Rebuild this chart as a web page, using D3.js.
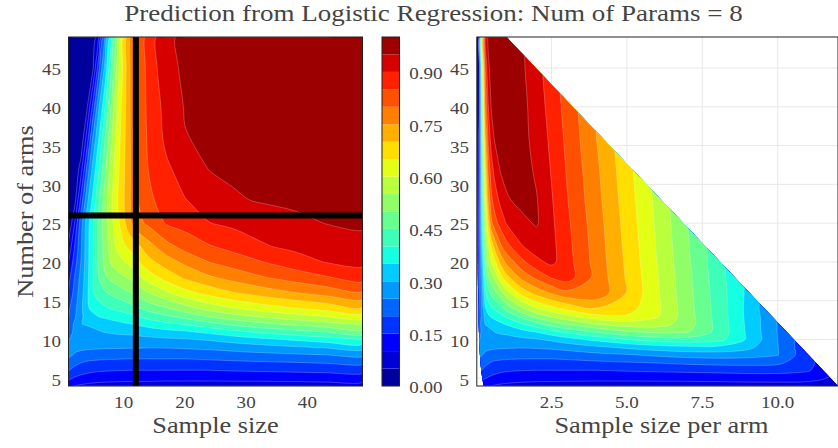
<!DOCTYPE html>
<html><head><meta charset="utf-8">
<script src="https://cdn.jsdelivr.net/npm/d3@7"></script>
<style>html,body{margin:0;padding:0;background:#fff;}svg{display:block;}</style>
</head><body>
<svg id="chart" width="838" height="448"></svg>
<script>
// ---------------- data ----------------
const titleText = "Prediction from Logistic Regression: Num of Params = 8";
// left panel grid: sample size (columns) x number of arms (rows)
const sampleSizes = [1,2,3,4,5,6,7,8,9,10,11,12,14,17,20,24,28,33,38,43,49];
const arms = [4,5,6,7,8,9,10,11,12,13,14,16,18,20,22,25,28,32,36,40,45,49];
const probBySampleSize = [
 [0.108,0.098,0.092,0.088,0.085,0.083,0.082,0.081,0.08,0.08,0.08,0.08,0.08,0.08,0.08,0.08,0.08,0.08,0.08,0.08,0.08],
 [0.16,0.145,0.135,0.128,0.123,0.12,0.118,0.117,0.116,0.115,0.114,0.114,0.114,0.111,0.111,0.111,0.112,0.113,0.115,0.119,0.12],
 [0.2,0.18,0.17,0.163,0.158,0.155,0.153,0.152,0.151,0.1505,0.149,0.149,0.149,0.149,0.149,0.149,0.153,0.156,0.16,0.163,0.167],
 [0.23,0.215,0.201,0.193,0.19,0.188,0.187,0.186,0.185,0.184,0.183,0.183,0.183,0.183,0.183,0.186,0.19,0.194,0.198,0.203,0.21],
 [0.26,0.245,0.235,0.228,0.224,0.221,0.22,0.219,0.218,0.217,0.217,0.217,0.218,0.218,0.218,0.223,0.23,0.237,0.243,0.249,0.261],
 [0.265,0.264,0.262,0.26,0.259,0.258,0.257,0.257,0.256,0.256,0.255,0.255,0.253,0.254,0.258,0.263,0.272,0.283,0.295,0.306,0.321],
 [0.249,0.258,0.266,0.271,0.274,0.277,0.278,0.279,0.28,0.28,0.281,0.283,0.287,0.292,0.296,0.306,0.322,0.341,0.358,0.377,0.401],
 [0.235,0.257,0.268,0.279,0.289,0.297,0.303,0.306,0.31,0.313,0.314,0.318,0.325,0.336,0.345,0.364,0.388,0.414,0.435,0.453,0.48],
 [0.22,0.258,0.298,0.306,0.312,0.318,0.325,0.331,0.337,0.344,0.349,0.355,0.37,0.389,0.406,0.436,0.464,0.491,0.513,0.534,0.557],
 [0.199,0.242,0.29,0.317,0.339,0.354,0.361,0.369,0.376,0.384,0.388,0.397,0.42,0.444,0.469,0.506,0.534,0.562,0.583,0.604,0.625],
 [0.19,0.235,0.286,0.342,0.363,0.378,0.393,0.403,0.41,0.417,0.427,0.439,0.467,0.495,0.528,0.569,0.598,0.624,0.646,0.666,0.693],
 [0.155,0.22,0.275,0.338,0.398,0.423,0.445,0.46,0.472,0.485,0.497,0.512,0.549,0.591,0.632,0.667,0.697,0.724,0.748,0.769,0.791],
 [0.13,0.203,0.264,0.333,0.398,0.454,0.492,0.513,0.529,0.545,0.556,0.58,0.623,0.67,0.708,0.743,0.769,0.798,0.822,0.845,0.873],
 [0.099,0.175,0.249,0.329,0.398,0.463,0.518,0.557,0.579,0.598,0.616,0.635,0.683,0.726,0.762,0.801,0.824,0.851,0.878,0.902,0.912],
 [0.06,0.151,0.24,0.327,0.397,0.463,0.525,0.574,0.612,0.641,0.661,0.683,0.729,0.783,0.818,0.846,0.867,0.896,0.912,0.922,0.931],
 [0,0.101,0.225,0.323,0.393,0.464,0.531,0.585,0.635,0.685,0.739,0.78,0.81,0.855,0.869,0.899,0.911,0.925,0.939,0.951,0.958],
 [0,0.03,0.16,0.283,0.365,0.445,0.526,0.594,0.647,0.694,0.746,0.792,0.839,0.872,0.898,0.921,0.945,0.955,0.96,0.963,0.966],
 [0,0,0.074,0.209,0.319,0.401,0.493,0.574,0.636,0.69,0.745,0.794,0.85,0.892,0.92,0.952,0.958,0.963,0.967,0.97,0.972],
 [0,0,0,0.121,0.257,0.355,0.45,0.546,0.623,0.684,0.746,0.795,0.857,0.911,0.948,0.958,0.964,0.969,0.972,0.975,0.977],
 [0,0,0,0.04,0.17,0.299,0.397,0.507,0.607,0.677,0.747,0.799,0.861,0.917,0.953,0.962,0.968,0.973,0.976,0.978,0.98],
 [0,0,0,0,0.045,0.194,0.324,0.446,0.571,0.665,0.748,0.802,0.864,0.937,0.957,0.964,0.97,0.975,0.978,0.98,0.982],
 [0,0,0,0,0,0.101,0.252,0.385,0.52,0.65,0.752,0.805,0.865,0.942,0.958,0.965,0.972,0.977,0.98,0.982,0.984]
];
// right panel grid: sample size per arm (columns) x number of arms (rows, same as arms)
const perArm = [0.02,0.1,0.2,0.3,0.4,0.5,0.6,0.8,1,1.5,2,2.5,3,4,5,6,7,8,9,10,11,12];
const probByPerArm = [
 [0.11,0.11,0.11,0.106,0.102,0.098,0.096,0.091,0.088,0.083,0.081,0.08,0.08,0.08,0.08,0.08,0.08,0.08,0.08,0.08,0.08,0.08],
 [0.17,0.17,0.16,0.153,0.145,0.14,0.135,0.128,0.123,0.118,0.115,0.114,0.113,0.111,0.111,0.112,0.113,0.115,0.119,0.12,0.115,0.09],
 [0.21,0.21,0.196,0.184,0.176,0.17,0.166,0.159,0.155,0.151,0.149,0.149,0.149,0.149,0.154,0.158,0.162,0.166,0.17,0.17,0.155,0.1],
 [0.23,0.23,0.224,0.214,0.204,0.197,0.192,0.189,0.187,0.184,0.183,0.183,0.184,0.19,0.196,0.202,0.21,0.215,0.215,0.21,0.165,0.1],
 [0.26,0.26,0.251,0.241,0.234,0.228,0.225,0.221,0.219,0.217,0.218,0.218,0.223,0.236,0.245,0.259,0.27,0.275,0.27,0.252,0.163,0.1],
 [0.265,0.265,0.264,0.263,0.261,0.26,0.259,0.257,0.256,0.254,0.256,0.261,0.27,0.29,0.311,0.33,0.34,0.34,0.315,0.252,0.16,0.1],
 [0.24,0.249,0.258,0.266,0.271,0.274,0.277,0.279,0.28,0.289,0.296,0.31,0.33,0.366,0.399,0.425,0.43,0.42,0.344,0.25,0.16,0.1],
 [0.22,0.237,0.259,0.271,0.283,0.293,0.301,0.309,0.314,0.334,0.355,0.385,0.414,0.457,0.495,0.512,0.505,0.437,0.342,0.248,0.165,0.11],
 [0.19,0.228,0.274,0.303,0.311,0.318,0.326,0.341,0.355,0.395,0.436,0.475,0.504,0.553,0.578,0.575,0.525,0.435,0.34,0.248,0.17,0.11],
 [0.17,0.212,0.271,0.314,0.342,0.358,0.367,0.386,0.409,0.465,0.52,0.559,0.587,0.637,0.645,0.606,0.523,0.433,0.338,0.248,0.17,0.11],
 [0.16,0.208,0.276,0.346,0.372,0.393,0.406,0.429,0.467,0.538,0.598,0.633,0.662,0.698,0.67,0.611,0.521,0.431,0.337,0.24,0.17,0.11],
 [0.13,0.194,0.288,0.386,0.432,0.46,0.48,0.527,0.577,0.667,0.719,0.756,0.787,0.787,0.697,0.607,0.517,0.428,0.34,0.248,0.17,0.11],
 [0.1,0.188,0.305,0.42,0.496,0.529,0.554,0.629,0.683,0.763,0.812,0.854,0.875,0.783,0.694,0.604,0.514,0.424,0.34,0.248,0.16,0.1],
 [0.07,0.175,0.329,0.463,0.557,0.598,0.635,0.712,0.762,0.835,0.888,0.912,0.871,0.779,0.69,0.599,0.51,0.42,0.33,0.24,0.148,0.1],
 [0.03,0.169,0.355,0.499,0.604,0.661,0.711,0.79,0.832,0.896,0.924,0.914,0.867,0.776,0.686,0.596,0.506,0.419,0.322,0.229,0.137,0.09],
 [0,0.163,0.393,0.558,0.685,0.788,0.825,0.869,0.902,0.938,0.955,0.909,0.861,0.771,0.681,0.591,0.501,0.413,0.317,0.223,0.131,0.085],
 [0,0.134,0.413,0.615,0.755,0.839,0.87,0.912,0.945,0.962,0.953,0.904,0.854,0.765,0.675,0.586,0.496,0.407,0.312,0.218,0.125,0.08],
 [0,0.101,0.437,0.668,0.816,0.878,0.913,0.954,0.962,0.972,0.942,0.896,0.847,0.758,0.668,0.579,0.488,0.399,0.304,0.211,0.118,0.07],
 [0,0.073,0.469,0.734,0.864,0.923,0.952,0.965,0.9705,0.965,0.935,0.888,0.84,0.749,0.661,0.571,0.481,0.391,0.297,0.204,0.109,0.06],
 [0,0.04,0.507,0.799,0.898,0.953,0.962,0.972,0.977,0.966,0.927,0.88,0.833,0.744,0.654,0.564,0.474,0.383,0.289,0.196,0.102,0.05],
 [0,0.022,0.571,0.848,0.944,0.961,0.969,0.977,0.981,0.96,0.918,0.871,0.824,0.735,0.645,0.555,0.465,0.373,0.279,0.187,0.095,0.05],
 [0,0,0.624,0.883,0.956,0.966,0.973,0.98,0.984,0.955,0.911,0.863,0.817,0.728,0.637,0.548,0.458,0.365,0.272,0.18,0.085,0.03]
];
const contourLevels = [0,0.05,0.1,0.15,0.2,0.25,0.3,0.35,0.4,0.45,0.5,0.55,0.6,0.65,0.7,0.75,0.8,0.85,0.9,0.95];
const colorbarTicks = [0,0.15,0.3,0.45,0.6,0.75,0.9];
const xTicksLeft = [10,20,30,40];
const yTicks = [5,10,15,20,25,30,35,40,45];
const xTicksRight = [2.5,5,7.5,10];
const markSampleSize = 12;   // vertical black line
const markArms = 26;         // horizontal black line
const hullTopPerArm = 1;     // per-arm value of the hull corner at the largest arm count
const hullMaxPerArm = 12;    // per-arm value of the hull corner at the smallest arm count

// ---------------- layout ----------------
const svg = d3.select('#chart');
const defs = svg.append('defs');
const L = {x0:68.5, x1:362.5, y0:37, y1:386};
const R = {x0:476.8, x1:838, y0:37, y1:386};
const CB = {x0:382, x1:399.5};
const FONT = '"Liberation Serif","Times New Roman",Times,serif';
const TXT = '#444';

const xL = d3.scaleLinear().domain(d3.extent(sampleSizes)).range([L.x0, L.x1]);
const yS = d3.scaleLinear().domain(d3.extent(arms)).range([L.y1, L.y0]);
const xR = d3.scaleLinear().domain(d3.extent(perArm)).range([R.x0, R.x1]);
const cbY = d3.scaleLinear().domain([0,1]).range([L.y1, L.y0]);

// matplotlib-style jet
const jetR = d3.scaleLinear().domain([0,0.35,0.66,0.89,1]).range([0,0,1,1,0.5]).clamp(true);
const jetG = d3.scaleLinear().domain([0,0.125,0.375,0.64,0.91,1]).range([0,0,1,1,0,0]).clamp(true);
const jetB = d3.scaleLinear().domain([0,0.11,0.34,0.65,1]).range([0.5,1,1,0,0]).clamp(true);
const jet = t => d3.rgb(255*jetR(t), 255*jetG(t), 255*jetB(t)).formatHex();
const step = contourLevels[1] - contourLevels[0];

const smoothLine = d3.line().curve(d3.curveCatmullRomClosed.alpha(0.5));

function drawContours(g, xs, ys, rows, xScale) {
  const n = xs.length, m = ys.length;
  const values = rows.flat();
  const ix = d3.scaleLinear().domain(d3.range(n)).range(xs).clamp(true);
  const iy = d3.scaleLinear().domain(d3.range(m)).range(ys).clamp(true);
  const toPx = ([x, y]) => [xScale(ix(x - 0.5)), yS(iy(y - 0.5))];
  const ringPath = ring => {
    const pts = [];
    ring.map(toPx).forEach(p => {
      const q = pts[pts.length - 1];
      if (!q || Math.hypot(p[0] - q[0], p[1] - q[1]) > 0.05) pts.push(p);
    });
    if (pts.length > 2 && Math.hypot(pts[0][0] - pts[pts.length-1][0], pts[0][1] - pts[pts.length-1][1]) < 0.05) pts.pop();
    return pts.length > 2 ? smoothLine(pts) : '';
  };
  const cs = d3.contours().size([n, m]).thresholds(contourLevels)(values);
  g.selectAll('path').data(cs).join('path')
    .attr('d', c => c.coordinates.map(poly => poly.map(ringPath).join('')).join(''))
    .attr('fill-rule', 'evenodd')
    .attr('fill', d => jet(d.value + step/2))
    .attr('stroke', 'rgba(255,255,255,0.4)')
    .attr('stroke-width', 0.6);
}

function label(x, y, str, o = {}) {
  const size = o.size || 17, stretch = o.stretch || 1.12, rot = o.rotate || 0;
  svg.append('g').attr('transform', `translate(${x},${y}) rotate(${rot}) scale(${stretch},1)`)
    .append('text').attr('text-anchor', o.anchor || 'middle')
    .attr('font-family', FONT).attr('font-size', size).attr('fill', TXT).text(str);
}

// ---------------- left panel ----------------
defs.append('clipPath').attr('id', 'leftClip').append('rect')
  .attr('x', L.x0).attr('y', L.y0).attr('width', L.x1 - L.x0).attr('height', L.y1 - L.y0);
const gL = svg.append('g');
const gLc = gL.append('g').attr('clip-path', 'url(#leftClip)');
gLc.append('rect').attr('x', L.x0).attr('y', L.y0).attr('width', L.x1 - L.x0).attr('height', L.y1 - L.y0)
  .attr('fill', jet(step/2));
drawContours(gLc.append('g'), sampleSizes, arms, probBySampleSize, xL);
gL.append('line').attr('x1', xL(markSampleSize)).attr('x2', xL(markSampleSize))
  .attr('y1', L.y0).attr('y2', L.y1).attr('stroke', '#000').attr('stroke-width', 6);
gL.append('line').attr('x1', L.x0).attr('x2', L.x1)
  .attr('y1', yS(markArms)).attr('y2', yS(markArms)).attr('stroke', '#000').attr('stroke-width', 6);
gL.append('rect').attr('x', L.x0).attr('y', L.y0).attr('width', L.x1 - L.x0).attr('height', L.y1 - L.y0)
  .attr('fill', 'none').attr('stroke', '#222').attr('stroke-width', 1);

// ---------------- right panel ----------------
const gR = svg.append('g');
gR.selectAll('line.gx').data(xTicksRight).join('line').attr('class','gx')
  .attr('x1', d => xR(d)).attr('x2', d => xR(d)).attr('y1', R.y0).attr('y2', R.y1)
  .attr('stroke', '#e8e8e8').attr('stroke-width', 1);
gR.selectAll('line.gy').data(yTicks).join('line').attr('class','gy')
  .attr('x1', R.x0).attr('x2', R.x1).attr('y1', d => yS(d)).attr('y2', d => yS(d))
  .attr('stroke', '#e8e8e8').attr('stroke-width', 1);

const armSpan = d3.range(arms[0], arms[arms.length - 1] + 1);
const hull = armSpan.map(k => [xR(1 / k), yS(k)]);
hull.push([xR(hullTopPerArm), yS(arms[arms.length - 1])]);
hull.push([xR(hullMaxPerArm), yS(arms[0])]);
defs.append('clipPath').attr('id', 'hullClip')
  .append('path').attr('d', 'M' + hull.map(p => p.join(',')).join('L') + 'Z');
const gRc = gR.append('g').attr('clip-path', 'url(#hullClip)');
gRc.append('rect').attr('x', R.x0).attr('y', R.y0).attr('width', R.x1 - R.x0).attr('height', R.y1 - R.y0)
  .attr('fill', jet(step/2));
drawContours(gRc.append('g'), perArm, arms, probByPerArm, xR);
gR.append('rect').attr('x', R.x0).attr('y', L.y0).attr('width', R.x1 - R.x0).attr('height', L.y1 - L.y0)
  .attr('fill', 'none').attr('stroke', '#222').attr('stroke-width', 1);

// ---------------- colorbar ----------------
const gC = svg.append('g');
gC.selectAll('rect.band').data(contourLevels).join('rect').attr('class','band')
  .attr('x', CB.x0).attr('width', CB.x1 - CB.x0)
  .attr('y', d => cbY(d + step)).attr('height', d => cbY(d) - cbY(d + step))
  .attr('fill', d => jet(d + step/2));
gC.append('rect').attr('x', CB.x0).attr('y', cbY(1)).attr('width', CB.x1 - CB.x0).attr('height', cbY(0) - cbY(1))
  .attr('fill', 'none').attr('stroke', '#222').attr('stroke-width', 1);
colorbarTicks.forEach(v => label(409.3, cbY(v) + 7.3, d3.format('.2f')(v), {anchor: 'start'}));

// ---------------- ticks & titles ----------------
xTicksLeft.forEach(v => label(xL(v), 408, String(v)));
yTicks.forEach(v => label(61, yS(v) + 7.3, String(v), {anchor: 'end'}));
yTicks.forEach(v => label(469, yS(v) + 7.3, String(v), {anchor: 'end'}));
xTicksRight.forEach(v => label(xR(v), 408, d3.format('.1f')(v)));

label(433.5, 21, titleText, {size: 23.5, stretch: 1.15});
label((L.x0 + L.x1) / 2, 433, 'Sample size', {size: 22.5, stretch: 1.17});
label((R.x0 + R.x1) / 2 + 4, 433, 'Sample size per arm', {size: 22.5, stretch: 1.17});
label(33, (L.y0 + L.y1) / 2, 'Number of arms', {size: 22.5, stretch: 1.17, rotate: -90});
</script>
</body></html>
